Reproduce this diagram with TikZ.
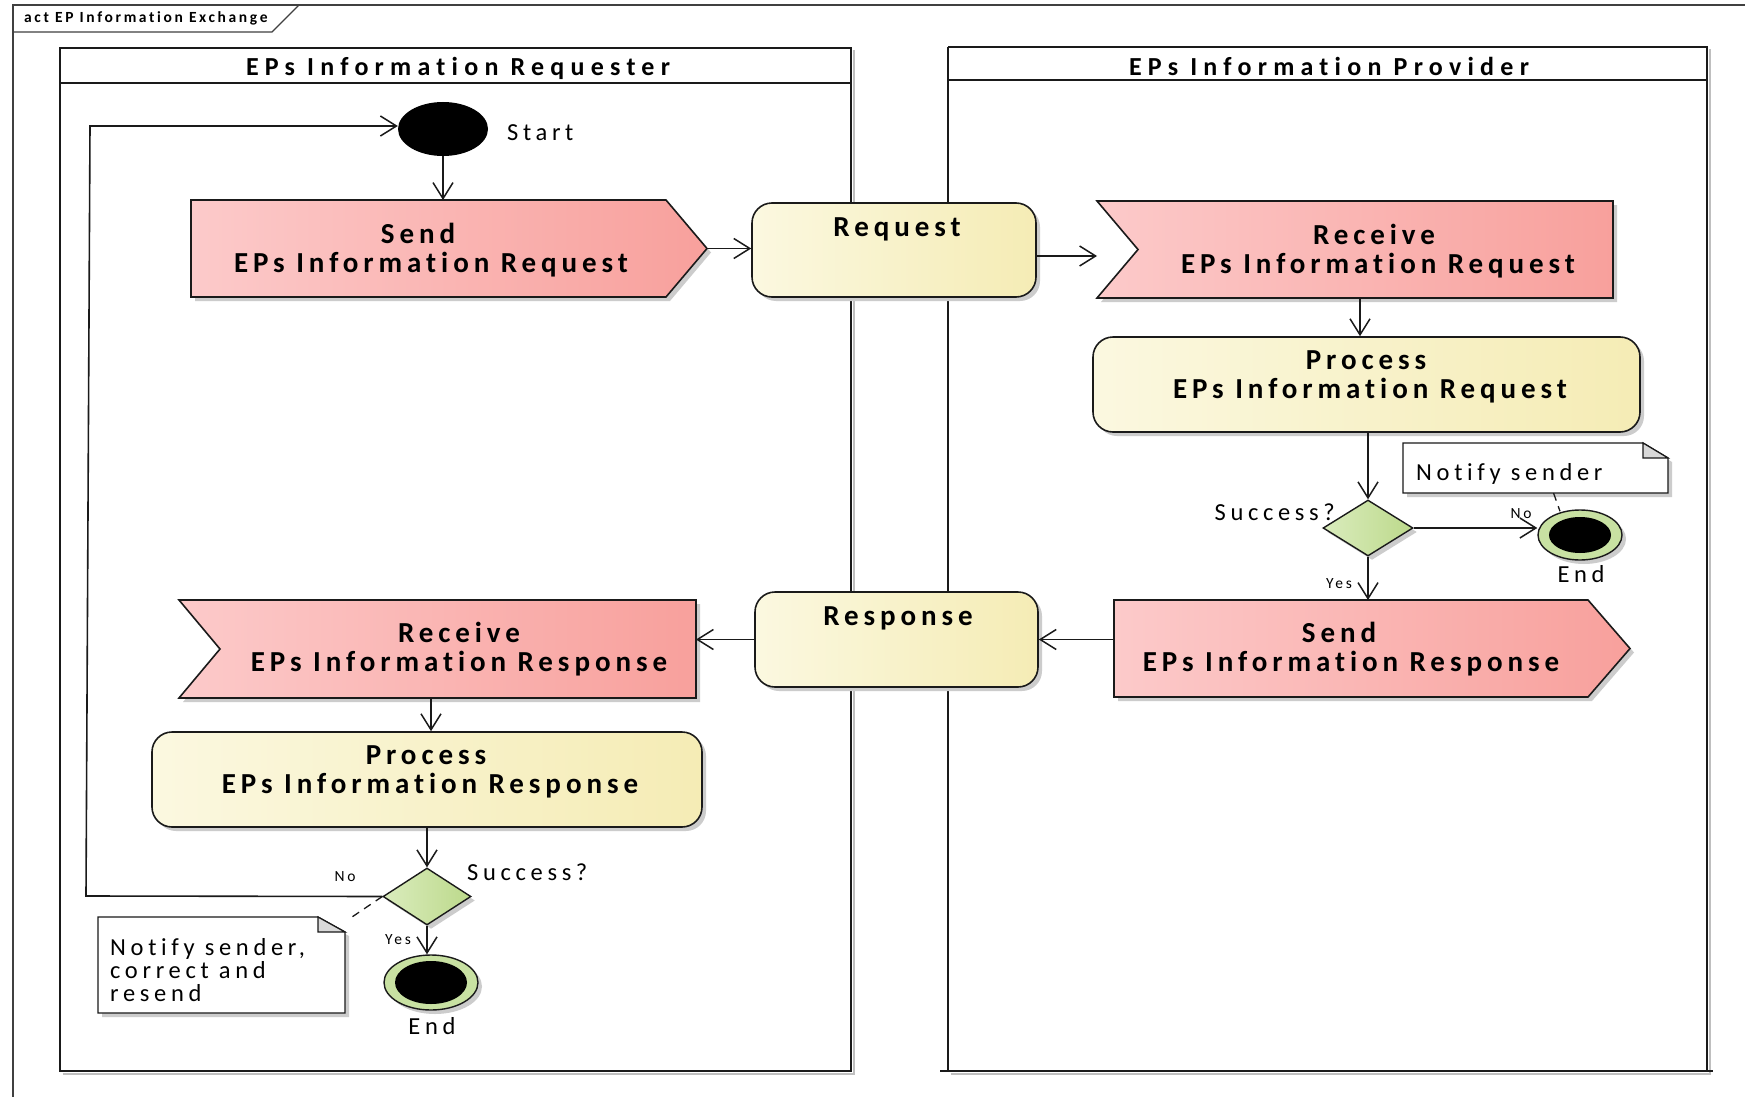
\documentclass[tikz,border=0pt]{standalone}
\usepackage{fontspec}
\setmainfont{Carlito}
\newfontfamily\lblfont{Carlito}[LetterSpace=17,RawFeature=-liga]
\newfontfamily\ttlfont{Carlito}[LetterSpace=24,RawFeature=-liga]
\newfontfamily\regfont{Carlito}[LetterSpace=19,RawFeature=-liga]
\newfontfamily\smfont{Carlito}[LetterSpace=18,RawFeature=-liga]
\newfontfamily\actfont{Carlito}[LetterSpace=17,RawFeature=-liga]
\usetikzlibrary{arrows.meta,shapes.geometric,shadows}
\definecolor{pinkL}{HTML}{FCCACA}
\definecolor{pinkR}{HTML}{F8A09C}
\definecolor{yelL}{HTML}{FBF8E0}
\definecolor{yelR}{HTML}{F5ECB5}
\definecolor{grnL}{HTML}{DAECBD}
\definecolor{grnR}{HTML}{BCD98B}
\definecolor{ring}{HTML}{C8E1A2}
\definecolor{edge}{HTML}{1A1A1A}
\begin{document}
\begin{tikzpicture}[x=1pt,y=-1pt,
  shd/.style={drop shadow={shadow xshift=4pt,shadow yshift=-4pt,fill=black!20,opacity=1}},
  shapebox/.style={inner sep=0pt,outer sep=0pt},
  sendfill/.style={draw=edge,line width=1.6pt,left color=pinkL,right color=pinkR,shd},
  actbox/.style={draw=edge,line width=1.6pt,rounded corners=20pt,left color=yelL,right color=yelR,shd,inner sep=0pt},
  dia/.style={diamond,draw=edge,line width=1.4pt,left color=grnL,right color=grnR,inner sep=0pt,shd},
  endo/.style={ellipse,draw=edge,line width=1.4pt,fill=ring,inner sep=0pt,shd},
  endi/.style={ellipse,fill=black,inner sep=0pt},
  notefill/.style={draw=edge,line width=1.4pt,fill=white,shd},
  foldfill/.style={draw=edge,line width=1.2pt,fill=black!15},
  lbl/.style={font=\lblfont\bfseries\fontsize{29}{29}\selectfont,align=center,inner sep=0pt},
  ttl/.style={font=\ttlfont\bfseries\fontsize{26}{28}\selectfont,inner sep=0pt},
  reg/.style={font=\regfont\fontsize{24.5}{23}\selectfont,inner sep=0pt},
  sm/.style={font=\smfont\fontsize{15.5}{16}\selectfont,inner sep=0pt},
  arr/.style={draw=edge,line width=1.6pt,-{Straight Barb[length=16pt,width=20pt,line width=1.5pt]}},
  lane/.style={draw=edge,line width=2pt},
  laneshd/.style={draw=black!25,line width=2pt},
  frame/.style={draw=black!75,line width=1.1pt},
  notelink/.style={draw=edge,line width=1.3pt,dash pattern=on 8pt off 6pt}]
\useasboundingbox (0,0) rectangle (1745,1097);
\fill[white] (0,0) rectangle (1745,1097);

% frame
\draw[frame] (13,1097) -- (13,5) -- (1745,5);
\draw[frame] (13,32) -- (272,32) -- (299,5);
\node[font=\actfont\bfseries\fontsize{15.5}{16}\selectfont,anchor=west,inner sep=0pt] (act) at (24,18) {act EP Information Exchange};

% partitions
\draw[laneshd] (62.5,1073.5) -- (853.5,1073.5) -- (853.5,50.5);
\draw[lane] (60,48) rectangle (851,1071);
\draw[lane] (60,83) -- (851,83);
\draw[laneshd] (950.5,1073.5) -- (1709.5,1073.5) -- (1709.5,49.5);
\draw[lane] (948,47) -- (1707,47) -- (1707,1071);
\draw[lane] (948,47) -- (948,1071);
\draw[lane] (940,1071) -- (1713,1071);
\draw[lane] (948,80) -- (1707,80);
\node[ttl] (laneL) at (458,68) {EPs Information Requester};
\node[ttl] (laneR) at (1329,66) {EPs Information Provider};

% start
\node[ellipse,fill=black,minimum width=90pt,minimum height=54pt,inner sep=0pt] (start) at (443,129) {};
\node[reg,anchor=west] (start-t) at (507,133) {Start};

% send request
\node[shapebox,minimum width=475pt,minimum height=97pt] (sreq) at (428.5,248.5) {};
\path[sendfill] (sreq.north west) -- (sreq.north east) -- ([xshift=41pt]sreq.east) -- (sreq.south east) -- (sreq.south west) -- cycle;
\node[lbl] (sreq-t) at (431,250) {Send\hspace*{26pt}\\EPs Information Request};
\coordinate (sreqtip) at ([xshift=41pt]sreq.east);

% request object
\node[actbox,minimum width=284pt,minimum height=94pt] (req) at (894,250) {};
\node[lbl] (req-t) at (897,229) {Request};

% receive request
\node[shapebox,minimum width=516pt,minimum height=97pt] (rreq) at (1355,249.5) {};
\path[sendfill] (rreq.north west) -- (rreq.north east) -- (rreq.south east) -- (rreq.south west) -- ([xshift=41pt]rreq.west) -- cycle;
\node[lbl] (rreq-t) at (1378,251) {Receive\hspace*{8pt}\\EPs Information Request};

% process request
\node[actbox,minimum width=547pt,minimum height=95pt] (preq) at (1366.5,384.5) {};
\node[lbl] (preq-t) at (1370,377) {Process\hspace*{8pt}\\EPs Information Request};

% decision right
\node[dia,minimum width=90pt,minimum height=56pt] (dr) at (1368,528) {};
\node[reg,anchor=east] (dr-t) at (1335,512) {Success?};
\node[endo,minimum width=84pt,minimum height=50pt] (er) at (1580,535) {};
\node[endi,minimum width=62pt,minimum height=36pt] (er-i) at (er) {};
\node[reg] (er-t) at (1581,574) {End};
\node[sm] (no-r) at (1521,514) {No};
\node[sm] (yes-r) at (1339,584) {Yes};

% note right
\node[shapebox,minimum width=265pt,minimum height=50pt] (nr) at (1535.5,468) {};
\path[notefill] (nr.north west) -- ([xshift=-25pt]nr.north east) -- ([yshift=-15pt]nr.north east) -- (nr.south east) -- (nr.south west) -- cycle;
\path[foldfill] ([xshift=-25pt]nr.north east) -- ([xshift=-25pt,yshift=-15pt]nr.north east) -- ([yshift=-15pt]nr.north east) -- cycle;
\node[reg,anchor=west] (nr-t) at (1416,474) {Notify sender};
\draw[notelink] ([xshift=18pt]nr.south) -- ([xshift=-20pt,yshift=-2pt]er.north);

% send response
\node[shapebox,minimum width=474pt,minimum height=97pt] (sresp) at (1351,648.5) {};
\path[sendfill] (sresp.north west) -- (sresp.north east) -- ([xshift=42pt]sresp.east) -- (sresp.south east) -- (sresp.south west) -- cycle;
\node[lbl] (sresp-t) at (1351,649) {Send\hspace*{24pt}\\EPs Information Response};

% response object
\node[actbox,minimum width=283pt,minimum height=95pt] (resp) at (896.5,639.5) {};
\node[lbl] (resp-t) at (898,618) {Response};

% receive response
\node[shapebox,minimum width=517pt,minimum height=98pt] (rresp) at (437.5,649) {};
\path[sendfill] (rresp.north west) -- (rresp.north east) -- (rresp.south east) -- (rresp.south west) -- ([xshift=41pt]rresp.west) -- cycle;
\node[lbl] (rresp-t) at (459,649) {Receive\\EPs Information Response};

% process response
\node[actbox,minimum width=550pt,minimum height=95pt] (presp) at (427,779.5) {};
\node[lbl] (presp-t) at (430,772) {Process\hspace*{8pt}\\EPs Information Response};

% decision left
\node[dia,minimum width=88pt,minimum height=57pt] (dl) at (427,896.5) {};
\node[reg,anchor=west] (dl-t) at (467,872) {Success?};
\node[sm] (no-l) at (345,877) {No};
\node[sm] (yes-l) at (398,940) {Yes};
\node[endo,minimum width=94pt,minimum height=55pt] (el) at (431,982.5) {};
\node[endi,minimum width=72pt,minimum height=43pt] (el-i) at (el) {};
\node[reg] (el-t) at (432,1026) {End};

% note left
\node[shapebox,minimum width=247pt,minimum height=96pt] (nl) at (221.5,965) {};
\path[notefill] (nl.north west) -- ([xshift=-27pt]nl.north east) -- ([yshift=-15pt]nl.north east) -- (nl.south east) -- (nl.south west) -- cycle;
\path[foldfill] ([xshift=-27pt]nl.north east) -- ([xshift=-27pt,yshift=-15pt]nl.north east) -- ([yshift=-15pt]nl.north east) -- cycle;
\node[reg,anchor=west,align=left] (nl-t) at (110,970) {Notify sender,\\correct and\\resend};
\draw[notelink] (dl.west) -- ([xshift=7pt]nl.north east);

% connectors
\draw[arr] (start.south) -- (start.south |- sreq.north);
\draw[arr] (sreqtip) -- (sreqtip -| req.west);
\draw[arr] ([yshift=-6pt]req.east) -- ([yshift=-6pt]req.east -| rreq.west);
\draw[arr] ([xshift=5pt]rreq.south) -- ([xshift=5pt]rreq.south |- preq.north);
\draw[arr] (preq.south -| dr.north) -- (dr.north);
\draw[arr] (dr.east) -- (dr.east -| er.west);
\draw[arr] (dr.south) -- (dr.south |- sresp.north);
\draw[arr] (sresp.west |- resp.east) -- (resp.east);
\draw[arr] (resp.west) -- (resp.west -| rresp.east);
\draw[arr] ([xshift=4pt]presp.north |- rresp.south) -- ([xshift=4pt]presp.north);
\draw[arr] (presp.south) -- (dl.north);
\draw[arr] (dl.south) -- (dl.south |- el.north);
\coordinate (lpA) at (86,896);
\coordinate (lpB) at (90,126);
\draw[arr] (dl.west) -- (lpA) -- (lpB) -- (lpB -| start.west);
\end{tikzpicture}
\end{document}
